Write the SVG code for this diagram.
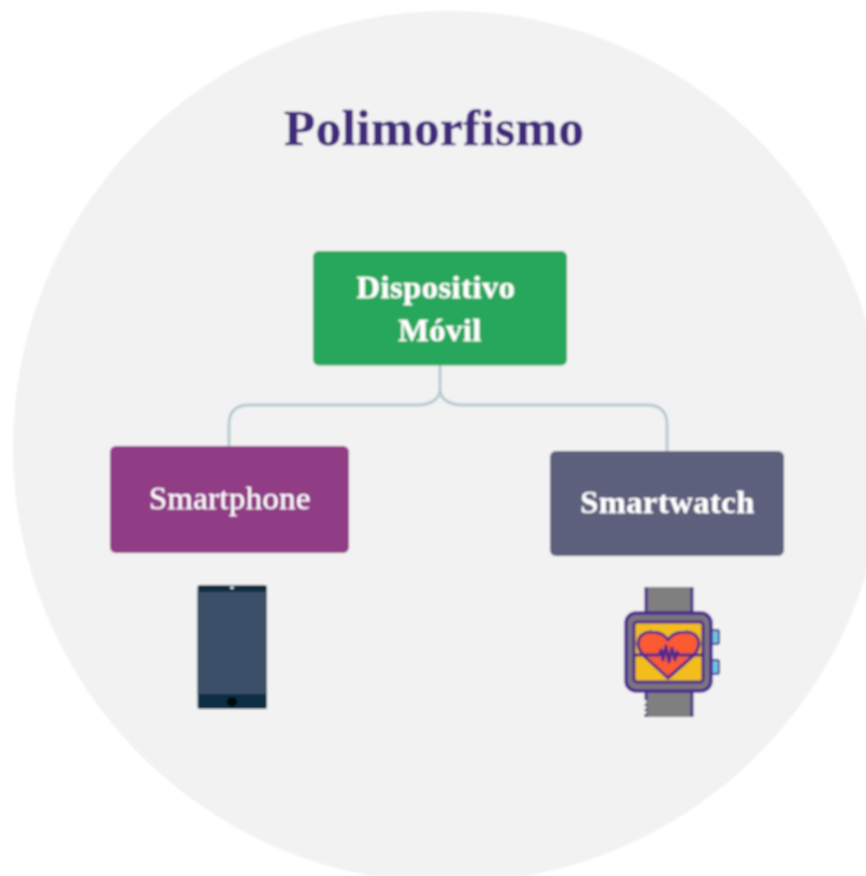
<svg xmlns="http://www.w3.org/2000/svg" width="866" height="876" viewBox="0 0 866 876">
<style>
.t{font-family:"Liberation Serif","Times New Roman",serif;fill:#fff;stroke:#fff;stroke-width:.3px;text-anchor:middle;font-size:32.500px;letter-spacing:.5px}
.b{font-weight:bold}
.c{fill:none;stroke:#b9cbd2;stroke-width:3}
.o{stroke:#4a2a8c;stroke-width:3.500;stroke-linejoin:round}
</style>
<defs><filter id="soft" x="-2%" y="-2%" width="104%" height="104%"><feGaussianBlur stdDeviation="0.8"/></filter></defs>
<rect width="866" height="876" fill="#fff"/>
<g filter="url(#soft)">
<circle id="background" cx="449" cy="447" r="436" fill="#f2f2f2"/>
<text id="title" x="434.300" y="145" font-family="Liberation Serif,Times New Roman,serif" font-size="51" letter-spacing=".5" font-weight="bold" fill="#41297a" stroke="#41297a" stroke-width=".4" text-anchor="middle">Polimorfismo</text>
<g id="connectors">
<path class="c" d="M440 365V390C440 399 430 405 418 405H249Q229 405 229 425V446"/>
<path class="c" d="M440 390C440 399 450 405 462 405H647Q667 405 667 425V451"/>
</g>
<g id="node-dispositivo">
<rect x="313" y="251" width="254" height="114.500" rx="6" fill="#27a75c"/>
<text class="t b" x="436" y="298">Dispositivo</text>
<text class="t b" x="440" y="341">Móvil</text>
</g>
<g id="node-smartphone">
<rect x="110" y="446" width="239" height="107" rx="6" fill="#903c86"/>
<text class="t" x="230" y="509">Smartphone</text>
</g>
<g id="node-smartwatch">
<rect x="550" y="451" width="234" height="105" rx="6" fill="#5d607c"/>
<text class="t b" x="667.500" y="513">Smartwatch</text>
</g>
<g id="icon-phone">
<rect x="197.500" y="585" width="69.500" height="124" rx="2.500" fill="#0e2d42"/>
<rect x="197.500" y="592" width="69.500" height="102" fill="#3a4f69"/>
<circle cx="232" cy="587.500" r="1.800" fill="#d8dfe4"/>
<circle cx="232" cy="702" r="5" fill="#03090d"/>
</g>
<g id="icon-watch">
<rect x="646" y="587" width="46" height="27" fill="#7f7f7f"/>
<rect x="646" y="690" width="46" height="27" fill="#7f7f7f"/>
<path d="M646 587V614M692 587V614M646 690V700M646 704V706M646 709V711M646 714V717M692 690V717" stroke="#4a2a8c" stroke-width="3" fill="none"/>
<rect x="710" y="630" width="9" height="14" rx="2" fill="#6ec4e8" stroke="#4a2a8c" stroke-width="2"/>
<rect x="710" y="660" width="9" height="14" rx="2" fill="#6ec4e8" stroke="#4a2a8c" stroke-width="2"/>
<rect x="626" y="613" width="85" height="78" rx="10" fill="#7b7480" class="o"/>
<rect x="634" y="622" width="69" height="60" rx="3" fill="#f3bd1e" stroke="#4a2a8c" stroke-width="3"/>
<path d="M668 678L644 656C632 643 640 631 652 632C660 632 665 635 668 640C671 635 677 632 685 632C697 631 705 643 693 656Z" fill="#fb5a32" stroke="#4a2a8c" stroke-width="3" stroke-linejoin="round"/>
<path d="M635 655H659L661 650L663 660L666 646L669 662L672 648L675 660L677 652L679 655H702" fill="none" stroke="#4a2a8c" stroke-width="3" stroke-linejoin="round"/>
</g>
</g>
</svg>
